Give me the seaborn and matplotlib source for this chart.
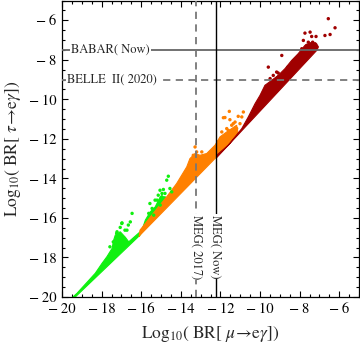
import numpy as np
import pandas as pd
import matplotlib
matplotlib.use("Agg")
import matplotlib.pyplot as plt
import seaborn as sns
from matplotlib.ticker import FixedLocator, MultipleLocator, FuncFormatter

# ---------------- data ----------------
# dense bands (outline vertices, log10 BR(mu->e gamma), log10 BR(tau->e gamma))
green_band_x = [-19.45, -19.33, -16.06, -15.39, -14.75, -14.80, -15.04, -15.29, -15.54, -15.79,
                -15.96, -16.63, -16.80, -17.06, -17.31, -17.39, -17.47, -17.73, -17.98, -18.32, -19.24, -19.45]
green_band_y = [-20.0, -20.0, -16.87, -15.77, -14.95, -14.93, -14.93, -15.44, -15.69, -16.11,
                -16.62, -17.21, -16.98, -16.70, -16.87, -17.12, -17.54, -17.96, -18.30, -18.80, -19.81, -20.0]

orange_band_x = [-16.10, -16.06, -12.19, -11.10, -11.18, -11.68, -12.02, -12.27, -12.69, -13.03,
                 -13.28, -13.54, -13.70, -14.21, -14.71, -15.39, -16.06]
orange_band_y = [-16.95, -16.87, -12.91, -11.75, -11.31, -11.65, -11.90, -12.32, -12.74, -12.83,
                 -12.74, -13.00, -13.42, -14.26, -14.93, -15.77, -16.62]

red_band_x = [-12.19, -7.14, -7.05, -7.14, -7.39, -7.73, -8.07, -8.40, -8.74, -9.08, -9.41, -9.75,
              -10.00, -10.25, -10.59, -10.92, -11.60, -12.19]
red_band_y = [-12.95, -7.53, -7.35, -7.19, -7.11, -7.27, -7.69, -8.03, -8.45, -8.79, -9.04, -9.29,
              -9.80, -10.22, -10.89, -11.48, -12.32, -12.83]

# scattered points above the bands
green_pts_x = [-16.46, -16.97, -16.55, -17.06, -17.22, -16.72, -16.98, -16.65, -17.24, -16.82, -17.07,
               -17.58, -17.41, -14.63, -14.71, -15.05, -14.88, -14.55, -14.46, -15.14, -15.30, -14.80,
               -15.56, -14.96, -14.95, -15.20, -15.04, -15.45, -15.62, -15.37]
green_pts_y = [-15.77, -16.25, -16.20, -16.48, -16.70, -16.62, -16.28, -16.36, -16.78, -16.62, -16.95,
               -17.46, -17.21, -13.89, -14.09, -14.60, -14.56, -14.51, -14.68, -14.85, -15.10, -14.76,
               -15.27, -14.93, -14.76, -15.10, -15.35, -15.52, -15.77, -15.86]

orange_pts_x = [-13.28, -13.20, -12.94, -13.37, -10.84, -11.10, -11.77, -11.52, -11.26, -11.01, -11.43,
                -11.18, -11.68, -11.93, -11.52, -11.85, -12.11, -10.92, -11.35, -11.60, -11.85, -11.55]
orange_pts_y = [-12.41, -12.66, -12.66, -12.83, -10.64, -10.86, -10.92, -11.03, -11.15, -11.23, -11.31,
                -11.48, -11.48, -11.65, -11.73, -11.98, -12.16, -10.89, -11.23, -11.57, -10.93, -10.61]

red_pts_x = [-6.55, -6.21, -6.46, -6.72, -7.73, -7.47, -7.39, -7.81, -7.56, -7.22, -7.64, -7.31, -7.89,
             -7.17, -7.34, -8.90, -9.58, -9.33, -9.16, -9.08, -8.65, -8.74, -9.49, -8.32, -8.15, -8.59,
             -9.08, -7.98]
red_pts_y = [-5.92, -6.38, -6.72, -6.77, -6.65, -6.60, -6.82, -7.02, -7.11, -7.19, -7.27, -7.36, -7.44,
             -6.82, -7.11, -7.78, -8.37, -8.79, -8.62, -8.87, -8.54, -8.79, -8.95, -8.20, -8.03, -8.37,
             -8.67, -7.78]

# experimental limits
babar_now = -7.48
belle2_2020 = -9.0
meg_now = -12.24
meg_2017 = -13.24

x_ticks = [-20, -18, -16, -14, -12, -10, -8, -6]
y_ticks = [-20, -18, -16, -14, -12, -10, -8, -6]

colors = {"green": "#10f010", "orange": "#ff8000", "red": "#a00000"}

# ---------------- plotting ----------------
sns.set_style("ticks")
plt.rcParams["font.family"] = ["STIXGeneral", "DejaVu Serif"]
plt.rcParams["mathtext.fontset"] = "stix"

fig = plt.figure(figsize=(3.6, 3.47), dpi=100)
ax = fig.add_axes([62 / 360, 50 / 347, 297 / 360, 296.5 / 347])

for bx, by, c in [(green_band_x, green_band_y, colors["green"]),
                  (orange_band_x, orange_band_y, colors["orange"]),
                  (red_band_x, red_band_y, colors["red"])]:
    ax.fill(bx, by, color=c, lw=0.8, edgecolor=c, zorder=1)

df = pd.concat([
    pd.DataFrame({"x": green_pts_x, "y": green_pts_y, "g": "green"}),
    pd.DataFrame({"x": orange_pts_x, "y": orange_pts_y, "g": "orange"}),
    pd.DataFrame({"x": red_pts_x, "y": red_pts_y, "g": "red"}),
], ignore_index=True)
sns.scatterplot(data=df, x="x", y="y", hue="g", palette=colors, s=6, linewidth=0,
                marker="o", legend=False, ax=ax, zorder=2)

ax.axhline(babar_now, color="#666666", lw=1.3, zorder=3)
ax.axhline(belle2_2020, color="#777777", lw=1.3, ls=(0, (4, 3)), zorder=3)
ax.axvline(meg_now, color="black", lw=1.0, zorder=3)
ax.axvline(meg_2017, color="#777777", lw=1.3, ls=(0, (4, 3)), zorder=3)

box = dict(facecolor="white", edgecolor="none", pad=0.6)
ax.text(-19.55, babar_now, "BABAR( Now)", fontsize=9, ha="left", va="center", bbox=box, zorder=4)
ax.text(-19.75, belle2_2020, "BELLE  II( 2020)", fontsize=9, ha="left", va="center", bbox=box, zorder=4)
ax.text(meg_now, -15.85, "MEG( Now)", fontsize=9, rotation=-90, ha="center", va="top", bbox=box, zorder=4)
ax.text(meg_2017, -15.85, "MEG( 2017)", fontsize=9, rotation=-90, ha="center", va="top", bbox=box, zorder=4)

ax.set_xlim(-20, -5)
ax.set_ylim(-20, -5)
ax.xaxis.set_major_locator(FixedLocator(x_ticks))
ax.yaxis.set_major_locator(FixedLocator(y_ticks))
ax.xaxis.set_minor_locator(MultipleLocator(0.5))
ax.yaxis.set_minor_locator(MultipleLocator(0.5))
fmt = FuncFormatter(lambda v, p: ("\u2212\u2009%d" % abs(v)) if v < 0 else "%d" % v)
ax.xaxis.set_major_formatter(fmt)
ax.yaxis.set_major_formatter(fmt)
ax.tick_params(which="both", direction="in", top=True, right=True, width=0.8, colors="black",
               labelsize=10.5)
ax.tick_params(which="major", length=4.5, pad=4)
ax.tick_params(which="minor", length=2.5)
for s in ax.spines.values():
    s.set_linewidth(0.9)
    s.set_color("black")

ax.set_xlabel(r"Log$_{10}$( BR[ $\mu\!\rightarrow\!$e$\gamma$])", fontsize=12.5, labelpad=6)
ax.set_ylabel(r"Log$_{10}$( BR[ $\tau\!\rightarrow\!$e$\gamma$])", fontsize=12.5, labelpad=4)

fig.savefig("out.png", dpi=100)
